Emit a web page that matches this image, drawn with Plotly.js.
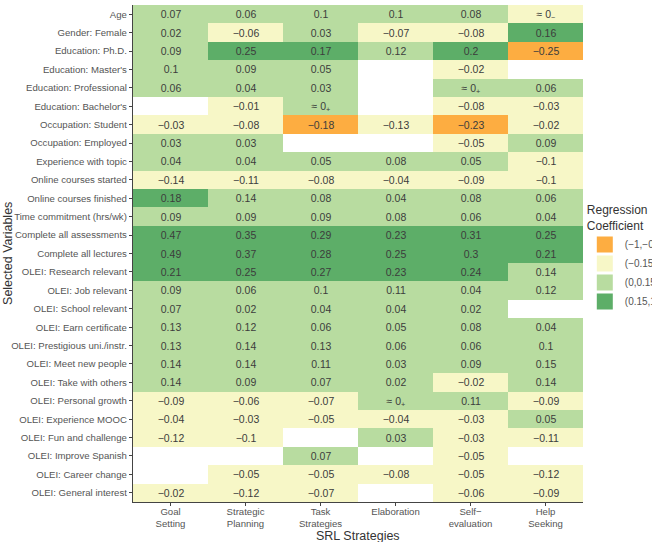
<!DOCTYPE html>
<html>
<head>
<meta charset="utf-8">
<script src="https://cdn.plot.ly/plotly-3.0.1.min.js"></script>
<style>html,body{margin:0;padding:0;background:#fff;}#chart{width:652px;height:542px;}</style>
</head>
<body>
<div id="chart"></div>
<script>
// Rows, top to bottom
const variables = [
  "Age", "Gender: Female", "Education: Ph.D.", "Education: Master's",
  "Education: Professional", "Education: Bachelor's", "Occupation: Student",
  "Occupation: Employed", "Experience with topic", "Online courses started",
  "Online courses finished", "Time commitment (hrs/wk)", "Complete all assessments",
  "Complete all lectures", "OLEI: Research relevant", "OLEI: Job relevant",
  "OLEI: School relevant", "OLEI: Earn certificate", "OLEI: Prestigious uni./instr.",
  "OLEI: Meet new people", "OLEI: Take with others", "OLEI: Personal growth",
  "OLEI: Experience MOOC", "OLEI: Fun and challenge", "OLEI: Improve Spanish",
  "OLEI: Career change", "OLEI: General interest"
];
const strategies = ["Goal<br>Setting", "Strategic<br>Planning", "Task<br>Strategies",
                    "Elaboration", "Self\u2212<br>evaluation", "Help<br>Seeking"];

// Coefficients per strategy (null = not selected); 0.001 / -0.001 = "≈ 0+" / "≈ 0-"
const goalSetting = [0.07, 0.02, 0.09, 0.1, 0.06, null, -0.03, 0.03, 0.04, -0.14, 0.18, 0.09, 0.47, 0.49, 0.21, 0.09, 0.07, 0.13, 0.13, 0.14, 0.14, -0.09, -0.04, -0.12, null, null, -0.02];
const strategicPlanning = [0.06, -0.06, 0.25, 0.09, 0.04, -0.01, -0.08, 0.03, 0.04, -0.11, 0.14, 0.09, 0.35, 0.37, 0.25, 0.06, 0.02, 0.12, 0.14, 0.14, 0.09, -0.06, -0.03, -0.1, null, -0.05, -0.12];
const taskStrategies = [0.1, 0.03, 0.17, 0.05, 0.03, 0.001, -0.18, null, 0.05, -0.08, 0.08, 0.09, 0.29, 0.28, 0.27, 0.1, 0.04, 0.06, 0.13, 0.11, 0.07, -0.07, -0.05, null, 0.07, -0.05, -0.07];
const elaboration = [0.1, -0.07, 0.12, null, null, null, -0.13, null, 0.08, -0.04, 0.04, 0.08, 0.23, 0.25, 0.23, 0.11, 0.04, 0.05, 0.06, 0.03, 0.02, 0.001, -0.04, 0.03, null, -0.08, null];
const selfEvaluation = [0.08, -0.08, 0.2, -0.02, 0.001, -0.08, -0.23, -0.05, 0.05, -0.09, 0.08, 0.06, 0.31, 0.3, 0.24, 0.04, 0.02, 0.08, 0.06, 0.09, -0.02, 0.11, -0.03, -0.03, -0.05, -0.05, -0.06];
const helpSeeking = [-0.001, 0.16, -0.25, null, 0.06, -0.03, -0.02, 0.09, -0.1, -0.1, 0.06, 0.04, 0.25, 0.21, 0.14, 0.12, null, 0.04, 0.1, 0.15, 0.14, -0.09, 0.05, -0.11, null, -0.12, -0.09];

const binLabels = ["(\u22121,\u22120.15]", "(\u22120.15,0]", "(0,0.15]", "(0.15,1]"];
const binColors = ["#FDAD41", "#F7F7C7", "#B8DCA0", "#5DAE68"];

const columns = [goalSetting, strategicPlanning, taskStrategies, elaboration, selfEvaluation, helpSeeking];

function binOf(v) {
  if (v === null) return null;
  if (v <= -0.15) return 0;
  if (v <= 0) return 1;
  if (v <= 0.15) return 2;
  return 3;
}
function labelOf(v) {
  if (v === null) return "";
  if (Math.abs(v) < 0.005) return v > 0 ? "\u2248 0<sub>+</sub>" : "\u2248 0<sub>\u2212</sub>";
  return (v < 0 ? "\u2212" : "") + String(Math.abs(v));
}

const z = variables.map((_, r) => columns.map(col => binOf(col[r])));
const txt = variables.map((_, r) => columns.map(col => labelOf(col[r])));

const cs = [
  [0, binColors[0]], [0.25, binColors[0]],
  [0.25, binColors[1]], [0.5, binColors[1]],
  [0.5, binColors[2]], [0.75, binColors[2]],
  [0.75, binColors[3]], [1, binColors[3]]
];

const traces = [{
  type: "heatmap",
  x: strategies,
  y: variables,
  z: z,
  text: txt,
  texttemplate: "%{text}",
  textfont: {family: "Liberation Sans, Arial, sans-serif", size: 10.5, color: "#3c3c3c"},
  colorscale: cs,
  zmin: -0.5, zmax: 3.5,
  showscale: false,
  hoverinfo: "skip"
}];

binLabels.forEach((lab, i) => {
  traces.push({
    type: "scatter", mode: "markers",
    x: [null], y: [null],
    name: lab,
    marker: {symbol: "square", size: 16, color: binColors[i]},
    showlegend: true
  });
});

const fam = "Liberation Sans, Arial, sans-serif";

const layout = {
  width: 652, height: 542,
  margin: {l: 133, r: 69, t: 5, b: 40, autoexpand: false},
  paper_bgcolor: "#ffffff",
  plot_bgcolor: "#ffffff",
  font: {family: fam, color: "#4d4d4d"},
  xaxis: {
    type: "category",
    showgrid: false, zeroline: false,
    showline: true, linecolor: "#444", linewidth: 1.2,
    ticks: "outside", ticklen: 3, tickcolor: "#444",
    tickfont: {size: 9.6, color: "#555"},
    ticklabelstandoff: -3,
    automargin: false,
    fixedrange: true
  },
  yaxis: {
    type: "category",
    autorange: "reversed",
    showgrid: false, zeroline: false,
    showline: true, linecolor: "#444", linewidth: 1.2,
    ticks: "outside", ticklen: 3, tickcolor: "#444",
    tickfont: {size: 9.6, color: "#555"},
    automargin: false,
    fixedrange: true
  },
  annotations: [
    {text: "SRL Strategies", xref: "paper", yref: "paper", x: 0.5, y: -0.069,
     xanchor: "center", yanchor: "middle", showarrow: false,
     font: {family: fam, size: 12.5, color: "#333"}},
    {text: "Selected Variables", xref: "paper", yref: "paper", x: -0.279, y: 0.5,
     xanchor: "center", yanchor: "middle", textangle: -90, showarrow: false,
     font: {family: fam, size: 12.5, color: "#333"}}
  ],
  showlegend: true,
  legend: {
    x: 1.004, xanchor: "left",
    y: 0.61, yanchor: "top",
    title: {text: "Regression<br>Coefficient", font: {size: 12, color: "#333"}},
    font: {size: 10, color: "#555"},
    itemsizing: "trace",
    itemwidth: 30,
    tracegroupgap: 0,
    bgcolor: "rgba(0,0,0,0)"
  }
};

Plotly.newPlot("chart", traces, layout, {displayModeBar: false, staticPlot: true});
</script>
</body>
</html>
